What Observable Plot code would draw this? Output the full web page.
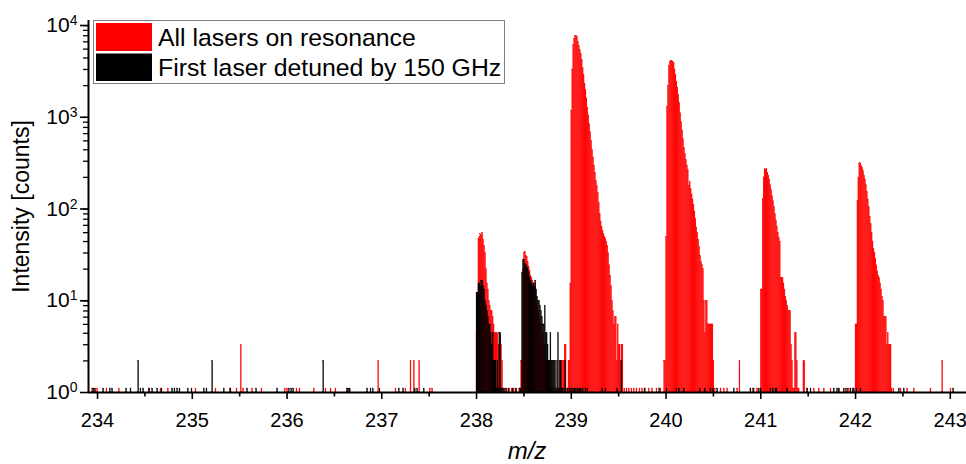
<!DOCTYPE html>
<html><head><meta charset="utf-8">
<script src="https://cdn.jsdelivr.net/npm/d3@7"></script>
<script src="https://cdn.jsdelivr.net/npm/@observablehq/plot@0.6"></script>
<style>
html,body{margin:0;padding:0;background:#fff;}
#chart{width:966px;height:464px;}
svg{display:block;font-family:"Liberation Sans",Arial,sans-serif;}
</style></head><body><div id="chart"></div>
<script>
// ---- data (m/z bins of 0.01 u, counts) ----
const binW = 0.01;
const red238Start = 238.00;
const red238 = [4,4,43,45,48,47,50,42,36,30, 20,14,12,9,8,7,7,6,5,4, 4,4,4,3,3,4,3,2,1,1, 0,0,1,0,1,0,0,1,0,1,
  0,1,0,0,0,1,1,2,2,20, 30,31,28,27,24,21,19,17,16,15, 14,14,14,9,8,7,6,5,5,4, 4,3,3,2,2,2,1,1,0,1, 0,1,0,0,1,0,0,1,2,2];
const red239Start = 238.90;
const red239 = [2,2,2,3,3,1,1,2,2,14, 1070,3000,5500,6500,7000,7000,6800,6000,5400,4900, 4400,3800,3100,2600,2100,1800,1450,1150,950,760,
  620,500,400,330,270,225,185,160,135,105, 80,66,58,52,48,45,43,40,36,30, 22,17,13,9,7,5,6,6,2,5, 3,3,2,3,3];
const red240Start = 239.98;
const red240 = [2,2,45,1170,2000,3300,3600,3700,3700,3650, 3500,3000,2600,2200,1900,1600,1300,1000,800,650,
  520,420,360,310,270,240,160,180,150,130, 115,100,85,70,57,50,42,35,28,24, 22,20,9,4,9,9,5,5,5,5, 5,5,2];
const red241Start = 241.00;
const red241 = [12,12,117,200,245,240,245,225,210,190, 165,145,125,110,95,80,68,58,50,44, 40,16,16,16,14,12,10,9,8,7,
  7,7,3,2,1,1,4,4,2,1, 1,0,0,0,0,2,2];
const red242Start = 242.00;
const red242 = [5,5,112,200,280,285,270,255,235,210, 190,165,140,115,95,75,62,50,40,33, 30,26,22,19,17,16,14,12,10,9,
  6,6,6,3,4,3,3,3,1];
const black238Start = 238.00;
const black238 = [11,11,14,14,13,15,15,13,12,9, 8,7,6,5,5,4,3,4,2,2, 2,1,2,1,4,4,1,1,0,1, 0,1,0,0,1,0,0,0,1,0,
  0,0,1,0,0,0,1,1,18,25, 25,23,22,21,20,18,16,15,14,13, 14,13,15,12,10,9,9,8,7,6, 5,5,8,4,4,3,2,2,4,2, 2,2,2,2,1,2,4,1,2,2,1];
const redSingles = [[233.944,1],[233.960,1],[233.996,1],[234.094,1],[234.225,1],[234.548,1],[234.664,1],[234.742,1],[235.034,1],
  [235.245,1],[235.396,1],[235.467,1],[235.512,3],[235.537,1],[235.632,1],[235.730,1],[235.976,1],[236.001,1],[236.100,1],
  [236.131,1],[236.282,1],[236.406,1],[236.459,1],[236.511,1],[236.635,1],[236.962,2],[237.145,1],[237.250,1],[237.303,2],
  [237.338,2],[237.395,2],[237.507,1],[237.532,1],[239.560,1],[239.583,1],[239.607,1],[239.635,1],[239.660,1],[239.688,1],
  [239.720,1],[239.748,1],[239.772,1],[239.818,1],[239.854,1],[239.899,1],[239.941,1],[240.515,1],[240.575,1],[240.610,1],
  [240.645,1],[240.751,1],[240.775,2],[240.891,1],[240.926,1],[240.962,1],[241.490,1],[241.560,1],[241.612,1],[241.665,1],
  [241.736,1],[241.823,1],[241.894,1],[241.929,1],[242.400,1],[242.475,1],[242.545,1],[242.615,1],[242.791,1],[242.915,2],[243.002,1]];
const blackSingles = [[233.954,1],[233.975,1],[234.060,1],[234.129,1],[234.154,1],[234.302,1],[234.348,1],[234.429,2],[234.453,1],
  [234.482,1],[234.541,1],[234.577,1],[234.630,1],[234.675,1],[234.788,1],[234.812,1],[234.841,1],[234.865,1],[234.953,1],
  [234.992,1],[235.122,1],[235.150,1],[235.210,2],[235.333,1],[235.403,1],[235.579,1],[235.674,1],[235.896,1],[236.019,1],
  [236.044,1],[236.065,1],[236.382,2],[236.635,1],[236.652,1],[236.662,1],[236.846,1],[236.881,1],[236.905,1],[236.976,1],
  [237.180,1],[237.226,1],[237.348,1],[237.374,1],[237.443,1],[238.905,1],[238.925,1],[238.935,2],[238.960,1],[238.980,1],
  [239.000,1],[239.020,1],[239.035,1],[239.050,1],[239.070,1],[239.085,1],[239.100,1],[239.120,1],[239.150,1],[239.170,1],
  [239.326,1],[239.361,1],[239.484,1],[239.530,2],[239.776,1],[239.928,1],[240.005,1],[240.110,1],[240.135,1],[240.187,1],
  [240.356,1],[240.409,1],[240.469,1],[240.497,1],[240.540,1],[240.715,1],[240.891,1],[240.920,1],[240.979,1],[240.997,1],
  [241.102,1],[241.127,1],[241.155,1],[241.166,1],[241.278,1],[241.490,1],[241.525,1],[241.771,1],[241.806,1],[241.823,1],
  [241.876,1],[241.912,1],[241.947,1],[241.971,1],[241.982,1],[242.010,1],[242.052,1],[242.457,1],[242.509,1],[243.031,1]];
const xTicks = [234,235,236,237,238,239,240,241,242,243];
const xMinor = [234.5,235.5,236.5,237.5,238.5,239.5,240.5,241.5,242.5];
const yTicks = [1,10,100,1000,10000];
const yMinor = [2,3,4,5,6,7,8,9,20,30,40,50,60,70,80,90,200,300,400,500,600,700,800,900,2000,3000,4000,5000,6000,7000,8000,9000];
const seriesNames = ["All lasers on resonance", "First laser detuned by 150 GHz"];
const seriesColors = ["#ff0000", "#000000"];
const xDomain = [233.9045, 243.171];
const yDomain = [0.905, 10250];

// ---- build tables ----
function expand(start, values) {
  const out = [];
  values.forEach((v, i) => { if (v > 0) out.push({m: +(start + i * binW).toFixed(3), v}); });
  return out;
}
const redBins = [
  ...expand(red238Start, red238), ...expand(red239Start, red239), ...expand(red240Start, red240),
  ...expand(red241Start, red241), ...expand(red242Start, red242),
  ...redSingles.map(([m, v]) => ({m, v}))
];
const blackBins = [...expand(black238Start, black238), ...blackSingles.map(([m, v]) => ({m, v}))];

const barOpts = (color) => ({
  x1: d => d.m, x2: d => d.m + binW, y1: () => yDomain[0], y2: d => d.v,
  fill: color, stroke: color, strokeWidth: 0.3
});

const chart = Plot.plot({
  width: 966, height: 464,
  marginLeft: 88, marginRight: 0, marginTop: 20, marginBottom: 72,
  style: {fontFamily: '"Liberation Sans", Arial, sans-serif', color: "#000", background: "#fff"},
  x: {domain: xDomain, label: null},
  y: {type: "log", domain: yDomain, label: null},
  marks: [
    Plot.rect(redBins, barOpts(seriesColors[0])),
    Plot.rect(blackBins, barOpts(seriesColors[1])),
    Plot.axisX(xTicks, {tickSize: 7, tickPadding: 13, fontSize: 20, strokeWidth: 1.6, tickFormat: d => String(d)}),
    Plot.axisX(xMinor, {tickSize: 4.5, strokeWidth: 1.6, tickFormat: () => ""}),
    Plot.axisY(yTicks, {tickSize: 8, tickPadding: 3, fontSize: 21, dy: 4, strokeWidth: 1.6,
      tickFormat: d => "10^" + Math.round(Math.log10(d))}),
    Plot.axisY(yMinor, {tickSize: 5, strokeWidth: 1.3, tickFormat: () => ""}),
    Plot.ruleX([xDomain[0]], {strokeWidth: 2}),
    Plot.ruleY([yDomain[0]], {strokeWidth: 2})
  ]
});
document.getElementById("chart").appendChild(chart);

const svg = d3.select(chart);
// superscript exponents on y tick labels
svg.selectAll('g[aria-label="y-axis tick label"] text').each(function () {
  const t = this.textContent;
  if (!t.includes("^")) return;
  const [b, e] = t.split("^");
  const s = d3.select(this);
  s.text(null);
  s.append("tspan").text(b);
  s.append("tspan").attr("dy", -7).attr("font-size", 14).text(e);
});

// axis titles
svg.append("text").attr("transform", "translate(29,206.5) rotate(-90)")
  .attr("text-anchor", "middle").attr("font-size", 23).attr("fill", "#000").text("Intensity [counts]");
svg.append("text").attr("x", 527).attr("y", 459).attr("text-anchor", "middle")
  .attr("font-size", 24).attr("font-style", "italic").attr("fill", "#000").text("m/z");

// legend
const lg = svg.append("g").attr("text-anchor", "start");
lg.append("rect").attr("x", 93.5).attr("y", 20.5).attr("width", 411).attr("height", 63)
  .attr("fill", "#fff").attr("stroke", "#808080").attr("stroke-width", 1);
seriesNames.forEach((name, i) => {
  lg.append("rect").attr("x", 96).attr("y", i === 0 ? 23 : 53.5).attr("width", 56).attr("height", i === 0 ? 28 : 27.5)
    .attr("fill", seriesColors[i]);
  lg.append("text").attr("x", 158).attr("y", i === 0 ? 45.5 : 76).attr("text-anchor", "start")
    .attr("font-size", 24.8).attr("fill", "#000").text(name);
});
</script></body></html>
